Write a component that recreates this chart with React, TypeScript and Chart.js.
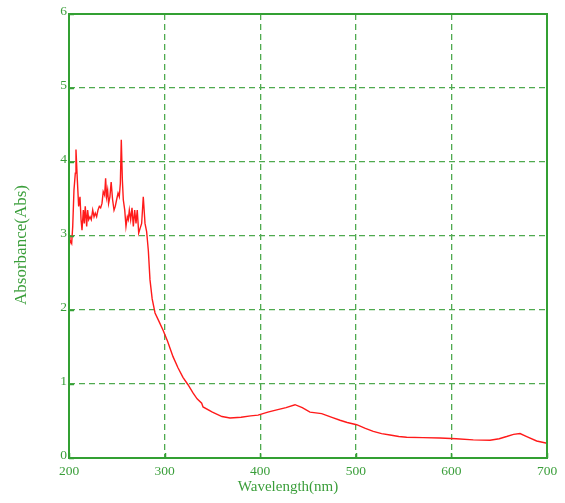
import React, { useEffect, useRef } from "react";
import { Chart, registerables } from "chart.js";

Chart.register(...registerables);

// UV-Vis absorption spectrum
const wavelengths = [
  200, 201, 202.8, 203.9, 205.2, 206.6, 207.3, 208.7, 210.1, 211.5, 212.6, 213.6,
  215, 216, 217, 218.5, 219.5, 220.6, 222, 223.3, 224.8, 226.2, 227.5, 228.9,
  230.3, 231.7, 233.1, 234.5, 235.8, 237.3, 238.3, 239.3, 240.4, 241.4, 242.8,
  244.1, 245.6, 247.1, 248.4, 249.8, 251.3, 252.6, 253.7, 254.7, 255.8, 256.8,
  258.3, 259.6, 261, 262, 263.1, 264.5, 265.9, 267.3, 268.7, 270.1, 271.4,
  272.9, 274.3, 276, 277.7, 279.5, 281.2, 283, 284.7, 287, 290, 294, 298.3, 303,
  308.8, 314, 319.2, 324.5, 329.7, 334, 338.8, 340.2, 350, 360, 368.4, 380, 390,
  397.7, 408, 417.3, 427, 436.4, 444, 452.1, 464.3, 475, 483.5, 491, 500.9, 510,
  518.3, 527, 535.8, 545, 553.2, 570, 588, 605, 622.9, 640.4, 650, 657.8, 665,
  671.8, 678.8, 689.2, 700,
];

const absorbance = [
  3.0, 2.95, 2.9, 3.13, 3.62, 3.85, 4.17, 3.76, 3.4, 3.53, 3.22, 3.08,
  3.35, 3.17, 3.4, 3.13, 3.35, 3.22, 3.26, 3.22, 3.35, 3.26, 3.31, 3.26,
  3.35, 3.4, 3.38, 3.44, 3.6, 3.55, 3.78, 3.53, 3.62, 3.44, 3.53,
  3.73, 3.49, 3.35, 3.4, 3.49, 3.58, 3.53, 3.71, 4.3, 3.76, 3.49,
  3.35, 3.13, 3.26, 3.22, 3.35, 3.22, 3.38, 3.13, 3.35, 3.17, 3.35,
  3.04, 3.1, 3.17, 3.53, 3.17, 3.06, 2.8, 2.41, 2.15, 1.96, 1.85, 1.73, 1.58,
  1.37, 1.22, 1.09, 0.99, 0.88, 0.8, 0.74, 0.69, 0.62, 0.56, 0.54, 0.55, 0.57,
  0.58, 0.62, 0.65, 0.68, 0.72, 0.68, 0.62, 0.6, 0.55, 0.51, 0.48, 0.45, 0.4,
  0.36, 0.33, 0.31, 0.29, 0.28, 0.275, 0.27, 0.26, 0.245, 0.24, 0.26, 0.29, 0.32,
  0.33, 0.29, 0.23, 0.2,
];

const xTitle = "Wavelength(nm)";
const yTitle = "Absorbance(Abs)";

const AXIS_GREEN = "#33a033";
const GRID_GREEN = "#4faa4f";
const TEXT_GREEN = "#3a9e3a";
const SERIF = '"Liberation Serif", "Times New Roman", serif';

// Solid frame, inward tick marks and the two axis titles
const framePlugin = {
  id: "spectrumFrame",
  afterDraw(chart: any) {
    const { ctx, chartArea: a, scales } = chart;
    ctx.save();
    ctx.strokeStyle = AXIS_GREEN;
    ctx.lineWidth = 1.5;
    for (const t of scales.x.ticks) {
      const px = Math.round(scales.x.getPixelForValue(t.value)) + 0.5;
      ctx.beginPath();
      ctx.moveTo(px, a.bottom);
      ctx.lineTo(px, a.bottom - 5);
      ctx.stroke();
    }
    for (const t of scales.y.ticks) {
      const py = Math.round(scales.y.getPixelForValue(t.value)) + 0.5;
      ctx.beginPath();
      ctx.moveTo(a.left, py);
      ctx.lineTo(a.left + 5, py);
      ctx.stroke();
    }
    ctx.lineWidth = 2;
    ctx.strokeRect(a.left, a.top, a.right - a.left, a.bottom - a.top);

    ctx.fillStyle = TEXT_GREEN;
    ctx.textAlign = "center";
    ctx.textBaseline = "middle";
    ctx.font = `15px ${SERIF}`;
    ctx.fillText(xTitle, a.left + 219, a.bottom + 29);
    ctx.font = `17px ${SERIF}`;
    ctx.translate(a.left - 47, a.top + 231);
    ctx.rotate(-Math.PI / 2);
    ctx.fillText(yTitle, 0, 0);
    ctx.restore();
  },
};

export default function App() {
  const canvasRef = useRef<HTMLCanvasElement | null>(null);

  useEffect(() => {
    const canvas = canvasRef.current;
    if (!canvas) return;
    const points = wavelengths.map((w, i) => ({ x: w, y: absorbance[i] }));
    const chart = new Chart(canvas, {
      type: "line",
      data: {
        datasets: [
          {
            data: points,
            borderColor: "#ff1a1a",
            borderWidth: 1.4,
            pointRadius: 0,
            tension: 0,
            fill: false,
          },
        ],
      },
      plugins: [framePlugin],
      options: {
        animation: false,
        responsive: false,
        devicePixelRatio: 1,
        layout: { padding: { left: 0, right: 18, top: 14, bottom: 0 } },
        plugins: {
          legend: { display: false },
          tooltip: { enabled: false },
        },
        scales: {
          x: {
            type: "linear",
            min: 200,
            max: 700,
            afterFit: (s: any) => {
              s.height = 45;
            },
            ticks: {
              stepSize: 100,
              padding: 5,
              color: TEXT_GREEN,
              font: { family: SERIF, size: 13.5 },
            },
            grid: {
              color: GRID_GREEN,
              lineWidth: 1.3,
              drawTicks: false,
            },
            border: { display: false, dash: [6, 4] },
          },
          y: {
            type: "linear",
            min: 0,
            max: 6,
            afterFit: (s: any) => {
              s.width = 69;
            },
            ticks: {
              stepSize: 1,
              padding: 2,
              labelOffset: -3,
              color: TEXT_GREEN,
              font: { family: SERIF, size: 13.5 },
            },
            grid: {
              color: GRID_GREEN,
              lineWidth: 1.3,
              drawTicks: false,
            },
            border: { display: false, dash: [6, 4] },
          },
        },
      },
    });
    return () => chart.destroy();
  }, []);

  return (
    <div style={{ position: "absolute", left: 0, top: 0, width: 565, height: 503, background: "#fff" }}>
      <canvas ref={canvasRef} width={565} height={503} />
    </div>
  );
}
